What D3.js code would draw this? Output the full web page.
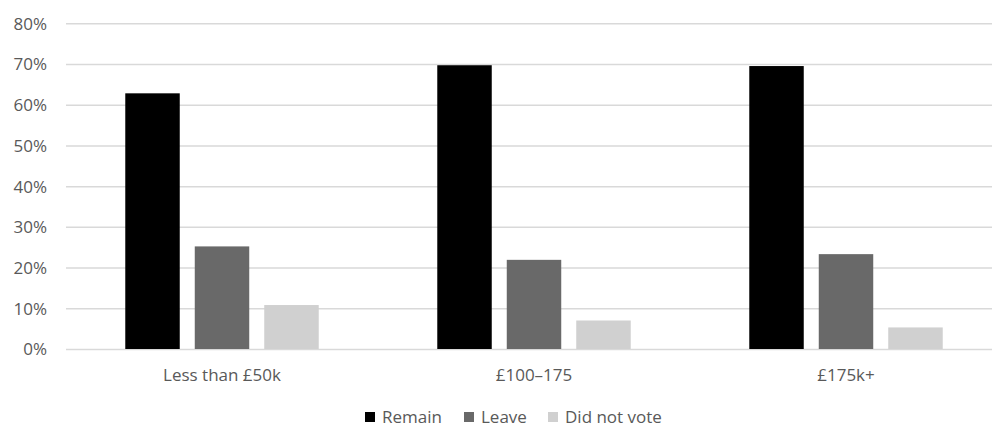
<!DOCTYPE html>
<html>
<head>
<meta charset="utf-8">
<script src="https://cdn.jsdelivr.net/npm/d3@7"></script>
<style>
  html, body { margin: 0; padding: 0; background: #fff; }
  text { font-family: "Open Sans", "Liberation Sans", sans-serif; fill: #595959; }
</style>
</head>
<body>
<svg id="chart" width="992" height="427"></svg>
<script>
// Vote share by household income band
const categories = ["Less than £50k", "£100–175", "£175k+"];
const seriesNames = ["Remain", "Leave", "Did not vote"];
const remain = [0.628, 0.697, 0.695];
const leave = [0.252, 0.219, 0.233];
const didNotVote = [0.108, 0.070, 0.053];
const yTicks = [0, 0.1, 0.2, 0.3, 0.4, 0.5, 0.6, 0.7, 0.8];
const colors = ["#000000", "#696969", "#d0d0d0"];

const seriesValues = [remain, leave, didNotVote];
const rows = categories.map((c, i) => ({
  category: c,
  values: seriesNames.map((s, j) => ({ series: s, value: seriesValues[j][i] }))
}));

const svg = d3.select("#chart");

const plot = { left: 66, right: 1002, top: 23.3, bottom: 349 };

const y = d3.scaleLinear().domain([0, 0.8]).range([plot.bottom, plot.top]);

const x0 = d3.scaleBand().domain(categories).range([plot.left, plot.right]).padding(0);
const x1 = d3.scaleBand().domain(seriesNames).range([0, x0.bandwidth()])
  .paddingInner(0.216).paddingOuter(0.853);

// Gridlines and y labels
const yAxis = d3.axisLeft(y)
  .tickValues(yTicks)
  .tickFormat(d3.format(".0%"))
  .tickSize(-(plot.right - plot.left))
  .tickPadding(19);

const gy = svg.append("g")
  .attr("transform", `translate(${plot.left},0)`)
  .call(yAxis);
gy.select(".domain").remove();
gy.selectAll(".tick line").attr("stroke", "#d9d9d9").attr("stroke-width", 1.5);
gy.selectAll(".tick text").attr("font-size", 17).attr("dy", "0.35em");

// Bars
const groups = svg.append("g").selectAll("g")
  .data(rows)
  .join("g")
  .attr("transform", d => `translate(${x0(d.category)},0)`);

groups.selectAll("rect")
  .data(d => d.values)
  .join("rect")
  .attr("x", d => x1(d.series))
  .attr("width", x1.bandwidth())
  .attr("y", d => y(d.value))
  .attr("height", d => y(0) - y(d.value))
  .attr("fill", d => colors[seriesNames.indexOf(d.series)]);

// Category labels
const xAxis = d3.axisBottom(x0).tickSize(0).tickPadding(20);
const gx = svg.append("g")
  .attr("transform", `translate(0,${plot.bottom})`)
  .call(xAxis);
gx.select(".domain").remove();
gx.selectAll(".tick text").attr("font-size", 17).attr("fill", "#595959");

// Legend
const legendItems = [
  { name: "Remain", x: 365 },
  { name: "Leave", x: 464 },
  { name: "Did not vote", x: 548 }
];
const legend = svg.append("g").attr("transform", "translate(0,417)");
const li = legend.selectAll("g")
  .data(legendItems)
  .join("g")
  .attr("transform", d => `translate(${d.x},0)`);
li.append("rect")
  .attr("x", 0).attr("y", -5).attr("width", 10).attr("height", 10)
  .attr("fill", d => colors[seriesNames.indexOf(d.name)]);
li.append("text")
  .attr("x", 17).attr("y", 0).attr("dy", "0.35em")
  .attr("font-size", 17)
  .text(d => d.name);
</script>
</body>
</html>
